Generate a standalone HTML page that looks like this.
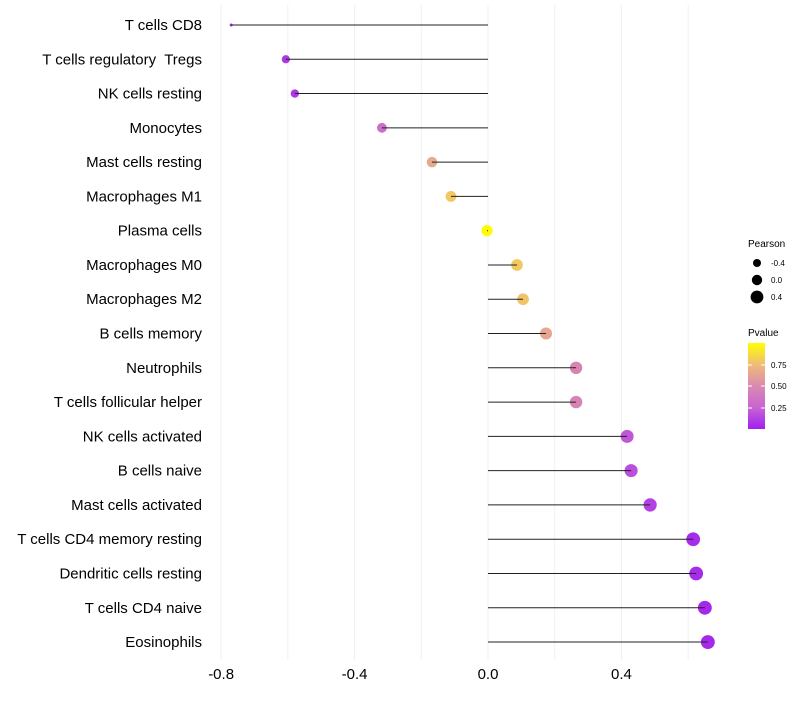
<!DOCTYPE html>
<html><head><meta charset="utf-8"><style>
body{margin:0;background:#fff;font-family:"Liberation Sans",sans-serif}
svg text{font-family:"Liberation Sans",sans-serif;white-space:pre}
</style></head><body>
<svg id="chart" width="800" height="700">
<defs><linearGradient id="pg" x1="0" y1="1" x2="0" y2="0">
<stop offset="0" stop-color="#A020F0"/><stop offset="0.25" stop-color="#C864D2"/><stop offset="0.5" stop-color="#DA8AB0"/><stop offset="0.75" stop-color="#EFBC78"/><stop offset="1" stop-color="#FFFF00"/></linearGradient></defs>
<g id="grid"></g><g id="marks"></g><g id="labels"></g>
<g font-size="10">
<text x="748" y="247">Pearson</text>
<circle cx="757" cy="263" r="4" fill="#000"/><text x="771" y="266" font-size="8">-0.4</text>
<circle cx="757" cy="280" r="5.2" fill="#000"/><text x="771" y="283" font-size="8">0.0</text>
<circle cx="757" cy="297" r="6.4" fill="#000"/><text x="771" y="300" font-size="8">0.4</text>
<text x="748" y="336">Pvalue</text>
<rect x="748" y="343" width="17" height="86" fill="url(#pg)"/>
<g stroke="#fff" stroke-width="1"><line x1="748" x2="752" y1="365" y2="365"/><line x1="761" x2="765" y1="365" y2="365"/><line x1="748" x2="752" y1="386" y2="386"/><line x1="761" x2="765" y1="386" y2="386"/><line x1="748" x2="752" y1="408" y2="408"/><line x1="761" x2="765" y1="408" y2="408"/></g>
<text x="771" y="368" font-size="8">0.75</text><text x="771" y="389" font-size="8">0.50</text><text x="771" y="411" font-size="8">0.25</text>
</g>
</svg>
<script>
const categories=["T cells CD8","T cells regulatory  Tregs","NK cells resting","Monocytes","Mast cells resting","Macrophages M1","Plasma cells","Macrophages M0","Macrophages M2","B cells memory","Neutrophils","T cells follicular helper","NK cells activated","B cells naive","Mast cells activated","T cells CD4 memory resting","Dendritic cells resting","T cells CD4 naive","Eosinophils"];
const pearson=[-0.770,-0.606,-0.579,-0.318,-0.168,-0.111,-0.003,0.087,0.105,0.174,0.264,0.264,0.417,0.429,0.486,0.615,0.624,0.650,0.659];
const pvalues=[0.04,0.08,0.09,0.32,0.66,0.8,0.99,0.8,0.78,0.64,0.46,0.46,0.2,0.17,0.12,0.04,0.04,0.03,0.03];
const xTicks=[-0.8,-0.4,0.0,0.4];
const xTickLabels=["-0.8","-0.4","0.0","0.4"];
const xMinor=[-0.8,-0.6,-0.4,-0.2,0,0.2,0.4,0.6];
const NS="http://www.w3.org/2000/svg";
const X=v=>488+v*333.6;
const Y=i=>25+i*34.28;
const minP=Math.min(...pearson);
const R=v=>v===minP?1.5:Math.sqrt(Math.max(2,32+25*v));
const stops=[[0,[160,32,240]],[0.25,[200,100,210]],[0.5,[218,138,176]],[0.75,[239,188,120]],[1,[255,255,0]]];
function col(p){for(let i=1;i<stops.length;i++){if(p<=stops[i][0]){const a=stops[i-1],b=stops[i],t=(p-a[0])/(b[0]-a[0]);return "rgb("+a[1].map((c,k)=>Math.round(c+(b[1][k]-c)*t)).join(",")+")";}}return "rgb(255,255,0)";}
function mk(t,a,parent){const e=document.createElementNS(NS,t);for(const k in a)e.setAttribute(k,a[k]);parent.appendChild(e);return e;}
const grid=document.getElementById('grid'),marks=document.getElementById('marks'),labels=document.getElementById('labels');
xMinor.forEach(v=>{const l=mk('line',{x1:X(v),x2:X(v),y1:5,y2:660,stroke:'#f0f0f0','stroke-width':1},grid);

});
xTicks.forEach((v,i)=>{const t=mk('text',{x:X(v),y:679,'text-anchor':'middle','font-size':15,fill:'#000'},labels);t.textContent=xTickLabels[i];

});
categories.forEach((c,i)=>{const y=Y(i);
const t=mk('text',{x:202,y:y+5,'text-anchor':'end','font-size':15,fill:'#000'},labels);t.textContent=c;


const ci=mk('circle',{cx:X(pearson[i]),cy:y,r:R(pearson[i]),fill:col(pvalues[i])},marks);


const l=mk('line',{x1:X(0),x2:X(pearson[i]),y1:y,y2:y,stroke:'#222','stroke-width':1},marks);


});
</script>
</body></html>
